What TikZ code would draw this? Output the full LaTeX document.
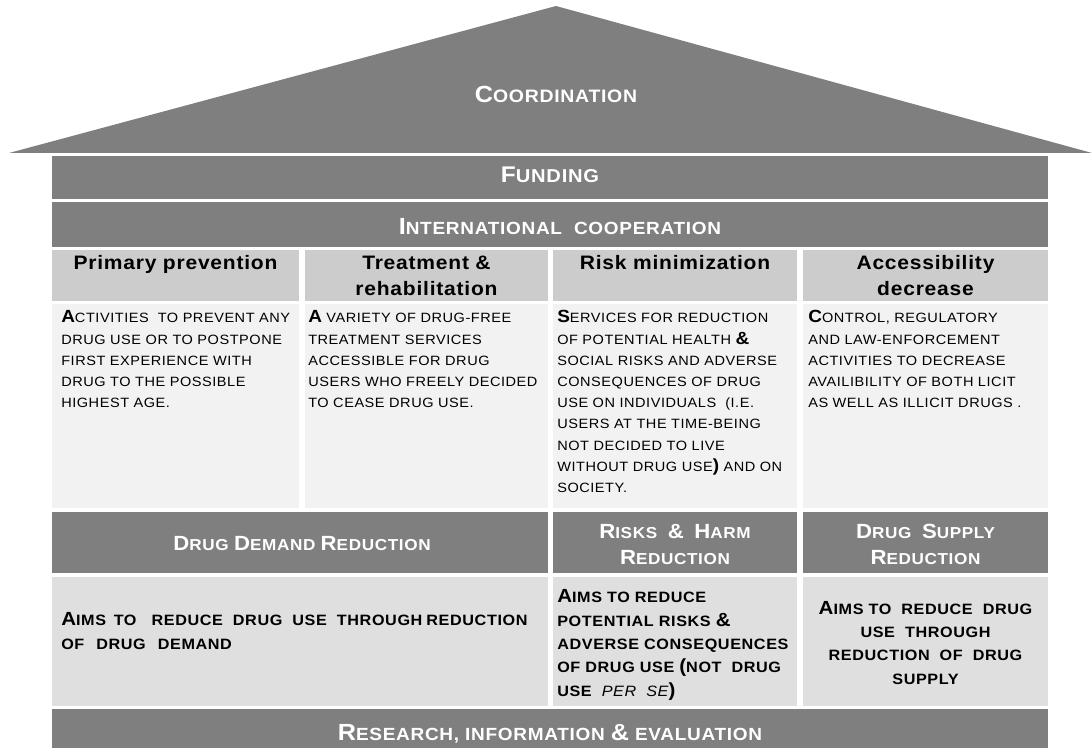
\documentclass[tikz,border=0pt]{standalone}
\usepackage{fontspec}
\setmainfont{Liberation Sans}[FakeStretch=1.08,LetterSpace=4]
\definecolor{dkgray}{HTML}{7F7F7F}
\definecolor{hdgray}{HTML}{CCCCCC}
\definecolor{ltgray}{HTML}{F2F2F2}
\definecolor{mdgray}{HTML}{DFDFDF}
\newcommand\Cap[2]{{\fontsize{#1}{#1}\selectfont#2}}
\newcommand\Ba[1]{{\bfseries\fontsize{13.2}{15.9}\selectfont#1}}
\newcommand\Bb[1]{{\fontsize{14.25}{17.5}\selectfont#1}}
\begin{document}
\begin{tikzpicture}[x=0.75pt,y=-0.75pt,
  ttl/.style={text=white,inner sep=0pt},
  hd/.style={inner sep=0pt,align=center,text width=178pt,anchor=base,font=\bfseries\fontsize{14.6}{19.5}\selectfont},
  bodytxt/.style={inner sep=0pt,align=left,text width=186pt,anchor=base west,font=\fontsize{10.1}{15.9}\selectfont},
  dktxt/.style={ttl,align=center,text width=180pt,anchor=base,font=\bfseries\fontsize{11.9}{19}\selectfont},
  lowtxt/.style={inner sep=0pt,text width=185pt,anchor=base,font=\bfseries\fontsize{11.25}{17.5}\selectfont}]
\useasboundingbox (0,0) rectangle (1092,748);
% roof and bars
\fill[dkgray] (9,153) -- (556,6) -- (1092,153) -- cycle;
\fill[dkgray] (52,156) rectangle (1048,199);
\fill[dkgray] (52,202) rectangle (1048,247);
% header row
\fill[hdgray] (52,250) rectangle (299,301);
\fill[hdgray] (305,250) rectangle (548,301);
\fill[hdgray] (553,250) rectangle (797,301);
\fill[hdgray] (803,250) rectangle (1048,301);
% text row
\fill[ltgray] (52,304) rectangle (299,508);
\fill[ltgray] (305,304) rectangle (548,508);
\fill[ltgray] (553,304) rectangle (797,508);
\fill[ltgray] (803,304) rectangle (1048,508);
% dark row
\fill[dkgray] (52,512) rectangle (548,573);
\fill[dkgray] (553,512) rectangle (797,573);
\fill[dkgray] (803,512) rectangle (1048,573);
% light row
\fill[mdgray] (52,577) rectangle (548,706);
\fill[mdgray] (553,577) rectangle (797,706);
\fill[mdgray] (803,577) rectangle (1048,706);
% research bar
\fill[dkgray] (52,709) rectangle (1048,748);

% titles
\node[ttl,anchor=base,font=\bfseries\fontsize{13.5}{16}\selectfont] (coord) at (556,102.3) {\Cap{17.5}{C}OORDINATION};
\node[ttl,anchor=base,font=\bfseries\fontsize{14}{16}\selectfont] (fund) at (550,182.3) {\Cap{17}{F}UNDING};
\node[ttl,anchor=base,font=\bfseries\fontsize{13.2}{16}\selectfont] (intl) at (560,235) {\Cap{17.5}{I}NTERNATIONAL\hspace{9pt}COOPERATION};

% headers
\node[hd] (h1) at (175.5,270) {Primary prevention};
\node[hd] (h2) at (426.5,270) {Treatment \&\\rehabilitation};
\node[hd] (h3) at (675,270) {Risk minimization};
\node[hd] (h4) at (925.5,270) {Accessibility\\decrease};

% body texts
\node[bodytxt] (t1) at (61,323) {\Ba{A}CTIVITIES\ \ TO PREVENT ANY\\DRUG USE OR TO POSTPONE\\FIRST EXPERIENCE WITH\\DRUG TO THE POSSIBLE\\HIGHEST AGE.};
\node[bodytxt] (t2) at (308,323) {\Ba{A} VARIETY OF DRUG-FREE\\TREATMENT SERVICES\\ACCESSIBLE FOR DRUG\\USERS WHO FREELY DECIDED\\TO CEASE DRUG USE.};
\node[bodytxt] (t3) at (557,323) {\Ba{S}ERVICES FOR REDUCTION\\OF POTENTIAL HEALTH \Ba{\&}\\SOCIAL RISKS AND ADVERSE\\CONSEQUENCES OF DRUG\\USE ON INDIVIDUALS\ \ (I.E.\\USERS AT THE TIME-BEING\\NOT DECIDED TO LIVE\\WITHOUT DRUG USE\Ba{)} AND ON\\SOCIETY.};
\node[bodytxt] (t4) at (808,323) {\Ba{C}ONTROL, REGULATORY\\AND LAW-ENFORCEMENT\\ACTIVITIES TO DECREASE\\AVAILIBILITY OF BOTH LICIT\\AS WELL AS ILLICIT DRUGS .};

% dark row titles
\node[dktxt,text width=360pt] (ddr) at (302,550.7) {\Cap{15.4}{D}RUG \Cap{15.4}{D}EMAND \Cap{15.4}{R}EDUCTION};
\node[dktxt] (rhr) at (675,538.7) {\Cap{15.4}{R}ISKS\ \ \Cap{15.4}{\&}\ \ \Cap{15.4}{H}ARM\\\Cap{15.4}{R}EDUCTION};
\node[dktxt] (dsr) at (925.5,538.7) {\Cap{15.4}{D}RUG\ \ \Cap{15.4}{S}UPPLY\\\Cap{15.4}{R}EDUCTION};

% lower texts
\node[lowtxt,anchor=base west,text width=365pt,align=left] (b1) at (61,625.7) {\makebox[361.5pt][s]{\Bb{A}IMS\kern2pt\ TO\ \ \ REDUCE\ \ DRUG\ \ USE\ \ THROUGH\kern3pt REDUCTION}\\OF\hspace{9pt}DRUG\hspace{9pt}DEMAND};
\node[lowtxt,anchor=base west,align=left] (b2) at (557,602.7) {\Bb{A}IMS TO REDUCE\\POTENTIAL RISKS \Bb{\&}\\ADVERSE CONSEQUENCES\\OF DRUG USE \Bb{(}NOT\ \ DRUG\\USE\ \ {\mdseries\itshape PER\ \ SE}\Bb{)}};
\node[lowtxt,align=center,text width=180pt] (b3) at (925.5,614.3) {\Bb{A}IMS TO\ \ REDUCE\ \ DRUG\\USE\ \ THROUGH\\REDUCTION\ \ OF\ \ DRUG\\SUPPLY};

% research
\node[ttl,anchor=base,font=\bfseries\fontsize{13.2}{16}\selectfont] (res) at (550,740.7) {\Cap{17.5}{R}ESEARCH, INFORMATION\ \Cap{17.5}{\&}\ EVALUATION};
\end{tikzpicture}
\end{document}
